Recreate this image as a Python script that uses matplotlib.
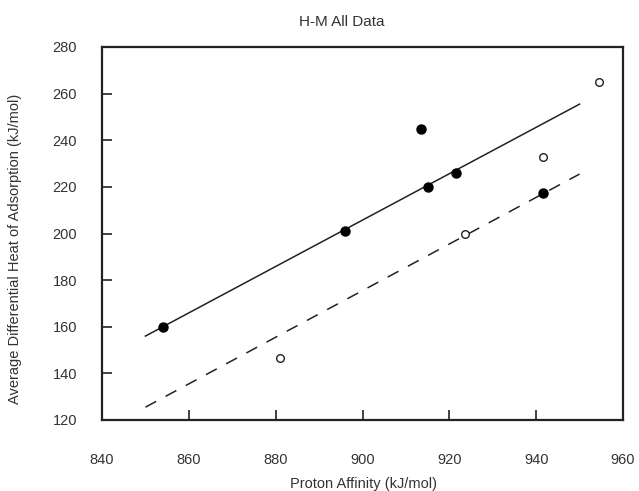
import matplotlib
matplotlib.use("Agg")
import matplotlib.pyplot as plt

# data
filled_x = [854, 896, 913.5, 915, 921.5, 941.5]
filled_y = [160, 201, 245, 220, 226, 217.5]
open_x = [881, 923.5, 941.5, 954.5]
open_y = [146.5, 200, 233, 265]
fit_x = [850, 950]
solid_y = [156, 255.5]
dashed_y = [125.5, 225.5]

xticks = [840, 860, 880, 900, 920, 940, 960]
yticks = [120, 140, 160, 180, 200, 220, 240, 260, 280]

plt.rcParams['font.family'] = ['Liberation Sans', 'DejaVu Sans']
ink = '#222222'
txt = '#333333'
fs = 10.5

fig = plt.figure(figsize=(6.39, 4.91), dpi=100)
ax = fig.add_axes([102/639, 1-420/491, 521/639, 373/491])

ax.plot(fit_x, solid_y, color=ink, lw=1.1)
ax.plot(fit_x, dashed_y, color=ink, lw=1.1, dashes=(8, 7))
ax.plot(filled_x, filled_y, 'o', color='black', ms=6.5, zorder=3)
ax.plot(open_x, open_y, 'o', mfc='white', mec=ink, mew=1.0, ms=5.5, zorder=3)

ax.set_xlim(840, 960)
ax.set_ylim(120, 280)
ax.set_xticks(xticks)
ax.set_yticks(yticks)
ax.tick_params(axis='x', direction='in', length=7, width=1.2, color=ink,
               pad=24, labelsize=fs, labelcolor=txt)
ax.tick_params(axis='y', direction='in', length=7, width=1.2, color=ink,
               pad=18, labelsize=fs, labelcolor=txt)
for s in ax.spines.values():
    s.set_linewidth(1.6)
    s.set_color(ink)

ax.set_xlabel('Proton Affinity (kJ/mol)', fontsize=fs, color=txt)
ax.xaxis.set_label_coords(0.501, -0.172)
ax.xaxis.label.set_va('center')
ax.set_ylabel('Average Differential Heat of Adsorption (kJ/mol)', fontsize=fs, color=txt)
ax.yaxis.set_label_coords(-0.167, 0.46)
ax.yaxis.label.set_va('center')

fig.text(342/639, 1-22/491, 'H-M All Data', ha='center', va='center',
         fontsize=11, color=txt)

fig.savefig('out.png', dpi=100)
